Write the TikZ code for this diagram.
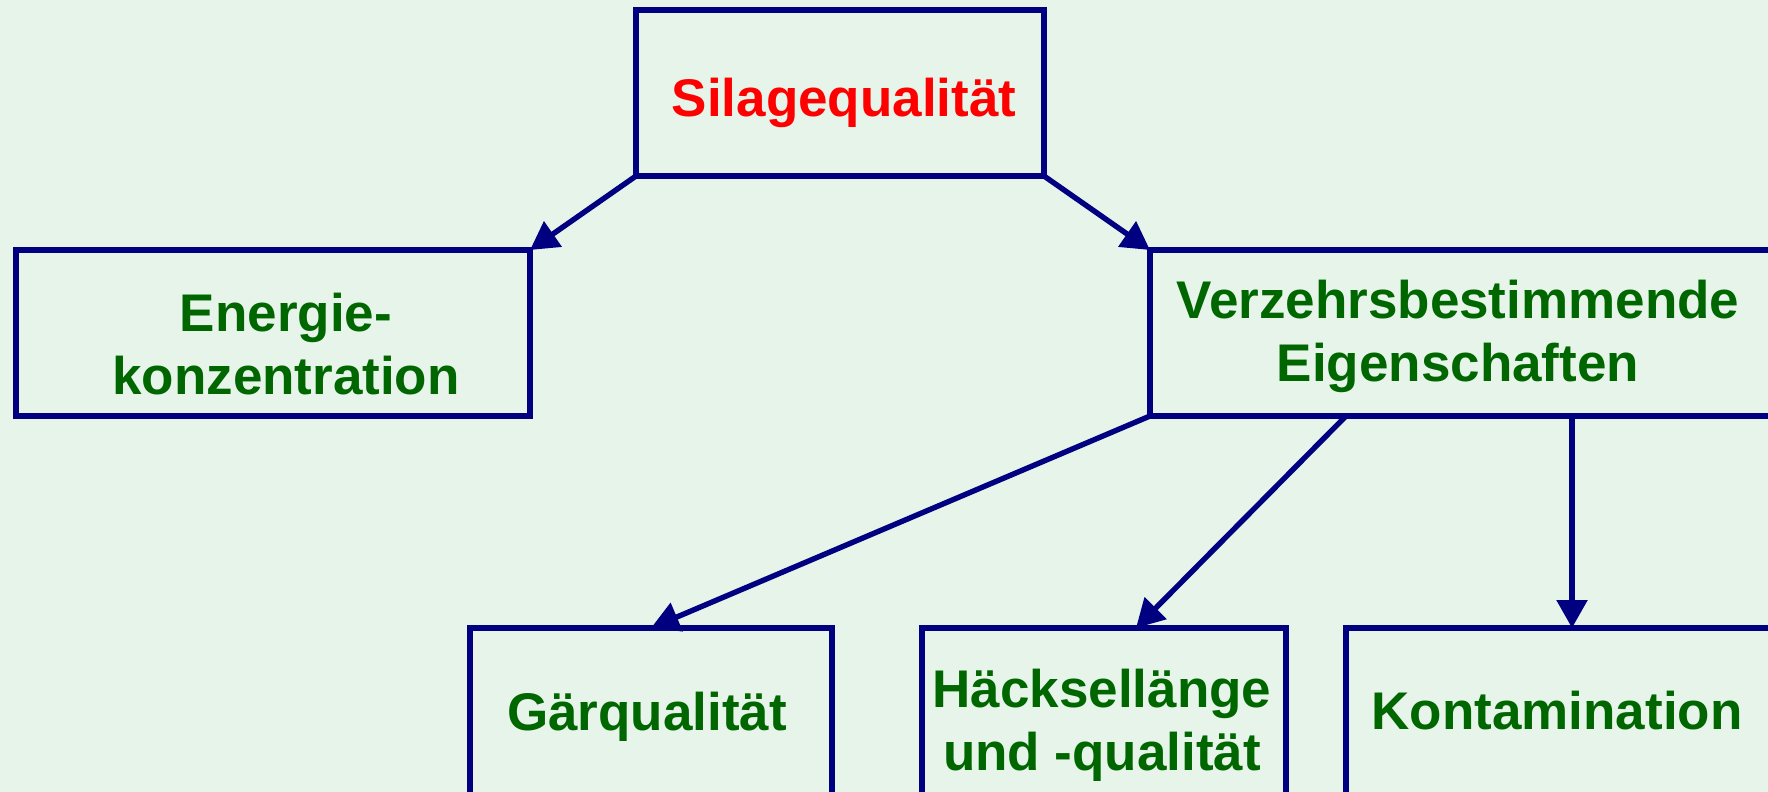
\documentclass[tikz,border=0pt]{standalone}
\usepackage{fontspec}
\setmainfont{Liberation Sans}
\usetikzlibrary{arrows.meta,calc}
\definecolor{bgmint}{HTML}{E6F4EA}
\definecolor{boxnavy}{HTML}{000080}
\definecolor{txtgreen}{HTML}{006600}
\definecolor{txtred}{HTML}{FF0000}
\begin{document}
\begin{tikzpicture}[x=0.5pt,y=-0.5pt,
  box/.style={draw=boxnavy,line width=2.7pt,inner sep=0pt,outer sep=0pt,anchor=north west},
  lbl/.style={font=\fontsize{26.5}{31.5}\selectfont\bfseries,text=txtgreen,align=center,inner sep=0pt,anchor=base},
  conn/.style={draw=boxnavy,line width=2.7pt,-{Triangle[length=14pt,width=15pt]}}]
\useasboundingbox (0,0) rectangle (1768,792);
\fill[bgmint] (0,0) rectangle (1768,792);
\clip (0,0) rectangle (1768,792);

% boxes
\node[box,minimum width=204pt,minimum height=83pt] (top) at (636,10) {};
\node[box,minimum width=257pt,minimum height=83pt] (en) at (16,250) {};
\node[box,minimum width=315pt,minimum height=83pt] (verz) at (1150,250) {};
\node[box,minimum width=181pt,minimum height=100pt] (gar) at (470,628) {};
\node[box,minimum width=182pt,minimum height=100pt] (hack) at (922,628) {};
\node[box,minimum width=226pt,minimum height=100pt] (kont) at (1346,628) {};

% labels
\node[lbl,text=txtred] (topT) at (844,116.5) {Silagequalität};
\node[lbl] (enT) at (286,394) {Energie-\\konzentration};
\node[lbl] (verzT) at (1458,381) {Verzehrsbestimmende\\Eigenschaften};
\node[lbl] (garT) at (647,730) {Gärqualität};
\node[lbl] (hackT) at (1102,770) {Häcksellänge\\und -qualität};
\node[lbl] (kontT) at (1557,729) {Kontamination};

% connectors
\coordinate (vsA) at ($(verz.south west)+(196,0)$);
\coordinate (vsB) at ($(verz.south west)+(422,0)$);
\coordinate (hkN) at ($(hack.north west)+(214,0)$);
\draw[conn] (top.south west) -- (en.north east);
\draw[conn] (top.south east) -- (verz.north west);
\draw[conn] (verz.south west) -- (gar.north);
\draw[conn] (vsA) -- (hkN);
\draw[conn] (vsB) -- (kont.north);
\end{tikzpicture}
\end{document}
